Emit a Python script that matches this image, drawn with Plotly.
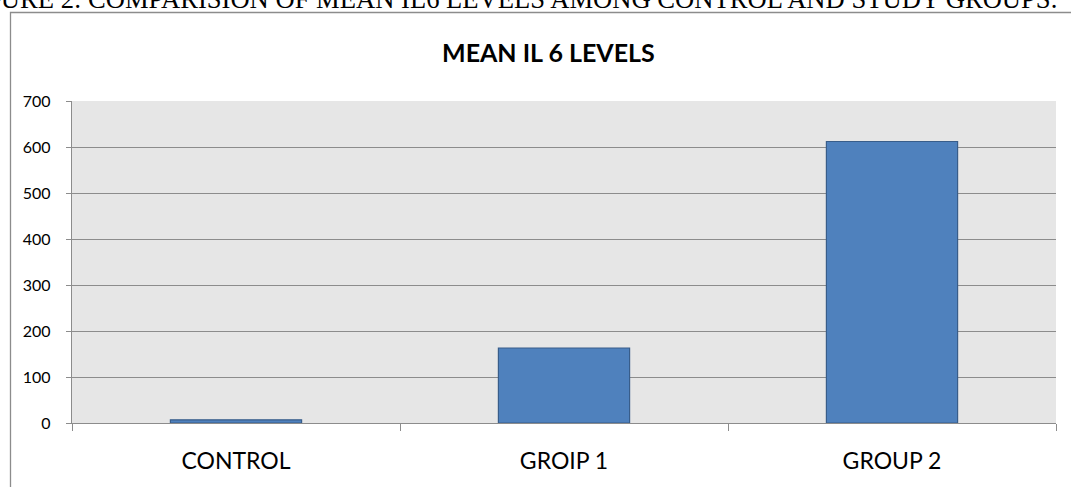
import plotly.graph_objects as go

groups = ["CONTROL", "GROIP 1", "GROUP 2"]
mean_il6 = [7, 163, 612]
y_ticks = [0, 100, 200, 300, 400, 500, 600, 700]

caption = "FIGURE 2: COMPARISION OF MEAN IL6 LEVELS AMONG CONTROL AND STUDY GROUPS."
chart_title = "MEAN IL 6 LEVELS"

W, H = 1071, 487
L, R, T, B = 72, 15, 101, 64
pw, ph = W - L - R, H - T - B


def px_x(x):
    return (x - L) / pw


def px_y(y):
    return (H - B - y) / ph


fig = go.Figure()
fig.add_trace(go.Bar(
    x=groups, y=mean_il6, width=0.4,
    marker=dict(color="#4f81bd", line=dict(color="#385d8a", width=1.2)),
))

# chart frame
fig.add_shape(type="rect", xref="paper", yref="paper",
              x0=px_x(10.5), x1=px_x(1090), y0=px_y(520), y1=px_y(12.5),
              line=dict(color="#8c8c8c", width=1.3), fillcolor="rgba(0,0,0,0)",
              layer="below")

fig.add_annotation(text=caption, xref="paper", yref="paper",
                   x=px_x(1059), y=px_y(-18), xanchor="right", yanchor="top",
                   showarrow=False,
                   font=dict(family="Liberation Serif", size=26.6, color="#000"))
fig.add_annotation(text="<b>" + chart_title + "</b>", xref="paper", yref="paper",
                   x=px_x(548), y=px_y(52), xanchor="center", yanchor="middle",
                   showarrow=False,
                   font=dict(family="Lato", size=25, color="#000"))

fig.update_layout(
    width=W, height=H,
    margin=dict(l=L, r=R, t=T, b=B, pad=0),
    paper_bgcolor="white", plot_bgcolor="#e6e6e6",
    showlegend=False, bargap=0.6,
    font=dict(family="Lato", color="#000"),
)
fig.update_xaxes(
    type="category", tickson="boundaries", ticks="outside", ticklen=7,
    tickcolor="#8c8c8c", tickwidth=1.3, showline=True, linecolor="#8c8c8c",
    linewidth=1.3, showgrid=False, tickfont=dict(size=23),
    ticklabelstandoff=17,
)
fig.update_yaxes(
    range=[0, 700], tickvals=y_ticks, ticks="outside", ticklen=5,
    tickcolor="#8c8c8c", tickwidth=1.3, showline=True, linecolor="#8c8c8c",
    linewidth=1.3, showgrid=True, gridcolor="#8c8c8c", gridwidth=1.3,
    zeroline=False, tickfont=dict(size=16), ticklabelstandoff=12,
)

fig.write_html("out.html")
